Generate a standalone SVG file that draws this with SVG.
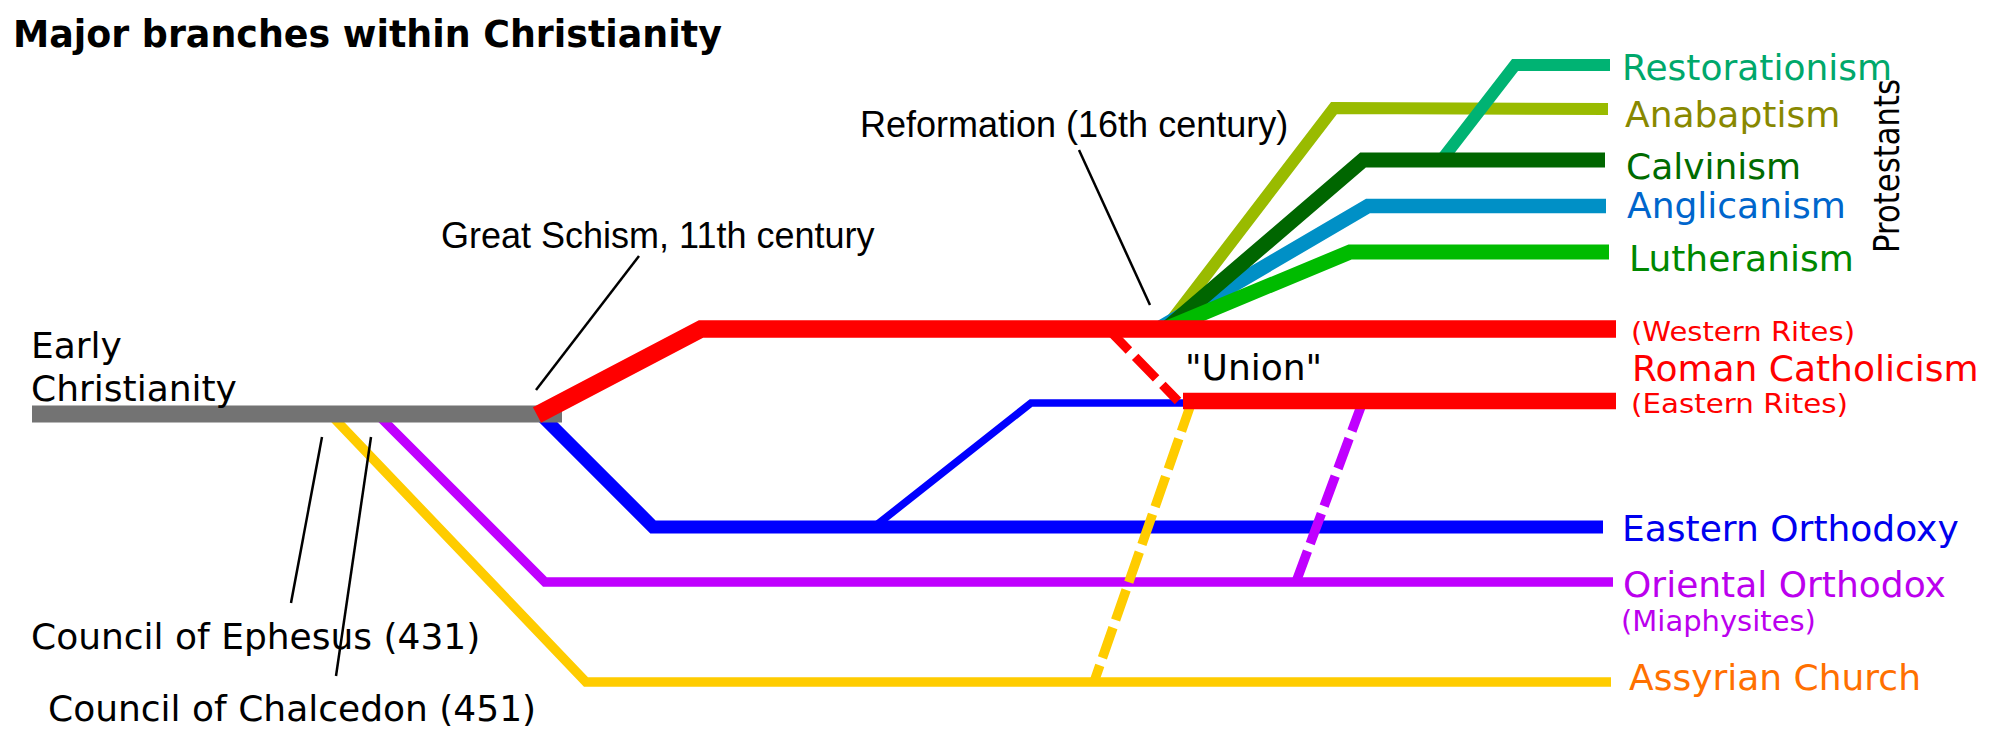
<svg xmlns="http://www.w3.org/2000/svg" width="2000" height="756" viewBox="0 0 2000 756">
<style>
  .ln{fill:none;stroke-linejoin:miter;stroke-linecap:butt;stroke-miterlimit:10}
  .dash{stroke-dasharray:32 8}
  .lead{fill:none;stroke:#000;stroke-width:2.5}
  .dv{font-family:"DejaVu Sans","Liberation Sans",sans-serif}
  .ar{font-family:"Liberation Sans",Arial,sans-serif}
  .t36{font-size:36px}
  .t27{font-size:27px}
</style>
<rect width="2000" height="756" fill="#fff"/>
<text x="13" y="47" class="dv" font-size="36.4" font-weight="bold" fill="#000">Major branches within Christianity</text>

<g id="assyrian-church">
  <path class="ln" d="M330,414 L586,682 H1611" stroke="#ffcc00" stroke-width="9.5"/>
</g>
<g id="oriental-orthodox">
  <path class="ln" d="M377,414 L545,582 H1613" stroke="#c000ff" stroke-width="9.5"/>
</g>
<g id="eastern-orthodoxy">
  <path class="ln" d="M540,414 L653,527 H1603" stroke="#0000ff" stroke-width="13"/>
</g>
<g id="early-christianity">
  <path class="ln" d="M32,414 H562" stroke="#737373" stroke-width="17"/>
  <text class="dv t36" fill="#000"><tspan x="31" y="358">Early</tspan><tspan x="31" y="401">Christianity</tspan></text>
</g>
<g id="eastern-rites-union">
  <path class="ln" d="M874,527 L1031,403 H1185" stroke="#0000ff" stroke-width="7.5"/>
</g>

<g id="anabaptism">
  <path class="ln" d="M1165,329 L1334,108 L1608,109" stroke="#99bb00" stroke-width="12"/>
  <text x="1625" y="127" class="dv t36" fill="#888800">Anabaptism</text>
</g>
<g id="restorationism">
  <path class="ln" d="M1440,162 L1515,65 H1610" stroke="#00b373" stroke-width="12"/>
  <text x="1622" y="80" class="dv t36" fill="#00a86b">Restorationism</text>
</g>
<g id="anglicanism">
  <path class="ln" d="M1158,329 L1368,206 H1606" stroke="#0090c6" stroke-width="14.5"/>
  <text x="1627" y="218" class="dv t36" fill="#0066cc">Anglicanism</text>
</g>
<g id="calvinism">
  <path class="ln" d="M1166,329 L1363,160 H1605" stroke="#006600" stroke-width="15"/>
  <text x="1626" y="179" class="dv t36" fill="#006b00">Calvinism</text>
</g>
<g id="lutheranism">
  <path class="ln" d="M1165,329 L1350,252 H1609" stroke="#00bb00" stroke-width="15"/>
  <text x="1629" y="271" class="dv t36" fill="#008800">Lutheranism</text>
</g>
<text class="dv t36" fill="#000" transform="translate(1899,253) rotate(-90)" textLength="174" lengthAdjust="spacingAndGlyphs">Protestants</text>

<g id="reunions">
  <path class="ln dash" d="M1192,401 L1094,682" stroke="#ffcc00" stroke-width="9.5"/>
  <path class="ln dash" d="M1363,401 L1296,582" stroke="#c000ff" stroke-width="9.5"/>
</g>

<g id="roman-catholicism">
  <path class="ln" d="M537,415 L701,329 H1616" stroke="#ff0000" stroke-width="17.5"/>
  <path class="ln" d="M1183,401 H1616" stroke="#ff0000" stroke-width="16.5"/>
  <path class="ln" d="M1108,329 L1178,401" stroke="#ff0000" stroke-width="9" stroke-dasharray="30 9"/>
  <text x="1631" y="341" class="dv t27" fill="#ff0000" textLength="224" lengthAdjust="spacingAndGlyphs">(Western Rites)</text>
  <text x="1632" y="381" class="dv t36" fill="#ff0000">Roman Catholicism</text>
  <text x="1631" y="413" class="dv t27" fill="#ff0000" textLength="217" lengthAdjust="spacingAndGlyphs">(Eastern Rites)</text>
</g>

<g id="labels">
  <text x="1185" y="380" class="dv t36" fill="#000">"Union"</text>
  <text x="1622" y="541" class="dv t36" fill="#0000ee">Eastern Orthodoxy</text>
  <text x="1623" y="597" class="dv t36" fill="#bb00ee">Oriental Orthodox</text>
  <text x="1621" y="631" class="dv" font-size="29" fill="#bb00ee">(Miaphysites)</text>
  <text x="1629" y="690" class="dv t36" fill="#ff7000">Assyrian Church</text>
  <text x="441" y="248" class="ar t36" fill="#000">Great Schism, 11th century</text>
  <text x="860" y="137" class="ar t36" fill="#000">Reformation (16th century)</text>
  <text x="31" y="649" class="dv t36" fill="#000">Council of Ephesus (431)</text>
  <text x="48" y="721" class="dv t36" fill="#000">Council of Chalcedon (451)</text>
</g>

<g id="connectors">
  <line class="lead" x1="639" y1="256" x2="536" y2="390"/>
  <line class="lead" x1="1079" y1="150" x2="1150" y2="305"/>
  <line class="lead" x1="322" y1="437" x2="291" y2="603"/>
  <line class="lead" x1="371" y1="437" x2="336" y2="676"/>
</g>
</svg>
